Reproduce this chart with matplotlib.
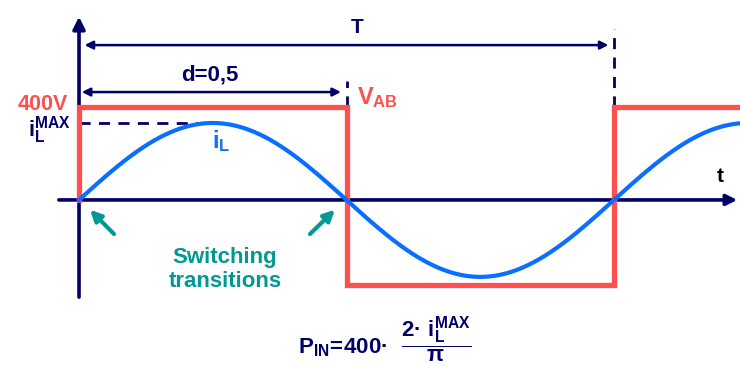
import numpy as np
import matplotlib.pyplot as plt

plt.rcParams['font.family'] = ['Liberation Sans', 'DejaVu Sans']
plt.rcParams['font.weight'] = 'bold'
plt.rcParams['mathtext.fontset'] = 'custom'
plt.rcParams['mathtext.rm'] = 'Liberation Sans:bold'
plt.rcParams['mathtext.it'] = 'Liberation Sans:bold'
plt.rcParams['mathtext.bf'] = 'Liberation Sans:bold'

# Square wave V_AB (one period T = 1, duty d = 0.5)
v_times = [0.0, 0.0, 0.5, 0.5, 1.0, 1.0, 1.23]
v_levels = [0, 400, 400, -366, -366, 400, 400]
duty = 0.5
period = 1.0

# Inductor current, same drawing scale as the voltage
il_max = 331
t = np.linspace(0, 1.235, 600)
il = il_max * np.sin(2 * np.pi * t / period)

navy = '#000066'
red = '#FF5050'
blue = '#0A6EFF'
teal = '#009994'

fig = plt.figure(figsize=(7.4, 3.65), dpi=100)
ax = fig.add_axes([0, 0, 1, 1])
ax.set_xlim(-0.1477, 1.2355)
ax.set_ylim(-710, 860)
ax.axis('off')

# axes with arrowheads
ax.annotate('', xy=(1.2355, 0), xytext=(-0.043, 0),
            arrowprops=dict(arrowstyle='-|>', color=navy, lw=2.6, mutation_scale=16))
ax.annotate('', xy=(0, 800), xytext=(0, -430),
            arrowprops=dict(arrowstyle='-|>', color=navy, lw=2.6, mutation_scale=18))

ax.plot(v_times, v_levels, color=red, lw=3.8, solid_joinstyle='miter', zorder=3)
ax.plot(t, il, color=blue, lw=3.0, zorder=4)

# period and duty dimension arrows
ax.annotate('', xy=(period, 666), xytext=(0, 666),
            arrowprops=dict(arrowstyle='<|-|>', color=navy, lw=1.8, mutation_scale=12,
                            shrinkA=4, shrinkB=4))
ax.annotate('', xy=(duty, 464), xytext=(0, 464),
            arrowprops=dict(arrowstyle='<|-|>', color=navy, lw=1.8, mutation_scale=12,
                            shrinkA=2, shrinkB=4))
ax.plot([duty, duty], [400, 510], color=navy, lw=2, ls=(0, (4, 3)))
ax.plot([period, period], [400, 735], color=navy, lw=2, ls=(0, (4, 3)))
ax.plot([0, 0.245], [il_max, il_max], color=navy, lw=2, ls=(0, (4, 3)), zorder=2)

ax.text(0.52, 740, 'T', color=navy, fontsize=15, ha='center', va='center')
ax.text(0.245, 537, 'd=0,5', color=navy, fontsize=16, ha='center', va='center')

ax.text(-0.02, 410, '400V', color=red, fontsize=15.5, ha='right', va='center')
ax.text(-0.056, 300, r'$\mathregular{i_L^{MAX}}$', color=navy, fontsize=16,
        ha='center', va='center')
ax.text(0.52, 440, r'$\mathregular{V_{AB}}$', color=red, fontsize=17, ha='left', va='center')
ax.text(0.249, 255, r'$\mathregular{i_L}$', color=blue, fontsize=17, ha='left', va='center')
ax.text(1.198, 100, 't', color='black', fontsize=15, ha='center', va='center')

ax.text(0.273, -300, 'Switching\ntransitions', color=teal, fontsize=16,
        ha='center', va='center', linespacing=1.15)
ax.annotate('', xy=(0.017, -34), xytext=(0.069, -155),
            arrowprops=dict(arrowstyle='-|>', color=teal, lw=3, mutation_scale=16))
ax.annotate('', xy=(0.482, -34), xytext=(0.428, -155),
            arrowprops=dict(arrowstyle='-|>', color=teal, lw=3, mutation_scale=16))

ax.text(0.572, -600, r'$\mathregular{P_{IN}\!=\!400·\ \ \dfrac{2·\ i_L^{MAX}}{\pi}}$',
        color=navy, fontsize=16, ha='center', va='center')

fig.savefig('out.png', dpi=100)
